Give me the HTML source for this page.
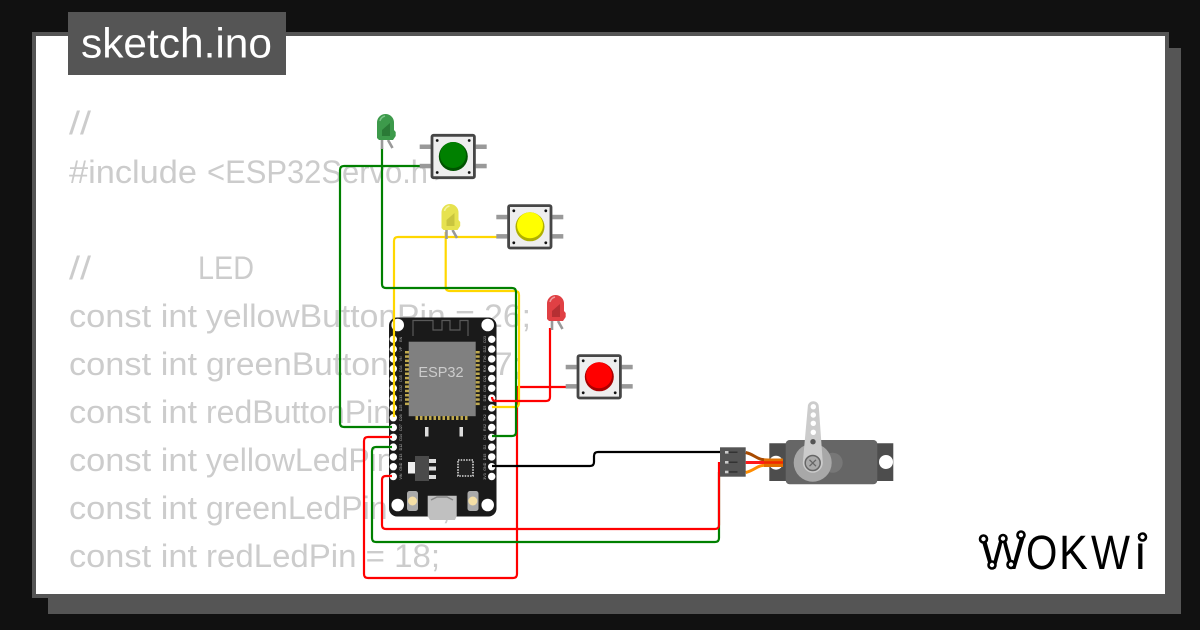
<!DOCTYPE html>
<html><head><meta charset="utf-8"><style>
html,body{margin:0;padding:0;background:#111;width:1200px;height:630px;overflow:hidden}
svg{display:block}
.code{font-family:"Liberation Sans",sans-serif;font-size:32px;fill:#ccc}
.w{fill:none;stroke-width:2.2;stroke-linejoin:round}
.pl{font-family:"Liberation Sans",sans-serif;font-size:3.6px;fill:#bbb}
.lg{font-family:"Liberation Sans",sans-serif;font-size:48px;fill:#000}
</style></head><body>
<svg xmlns="http://www.w3.org/2000/svg" width="1200" height="630" viewBox="0 0 1200 630">
<defs>
<g id="btn">
<g fill="#999"><rect x="-11" y="10.500" width="11" height="4.500"/><rect x="-11" y="29.800" width="11" height="4.500"/><rect x="45" y="10.500" width="11" height="4.500"/><rect x="45" y="29.800" width="11" height="4.500"/></g>
<rect x="1.300" y="1.300" width="42.400" height="42.400" rx="1.500" fill="#eee" stroke="#464646" stroke-width="2.800"/>
<g fill="#111"><circle cx="6.500" cy="6.500" r="1.400"/><circle cx="38.500" cy="6.500" r="1.400"/><circle cx="6.500" cy="38.500" r="1.400"/><circle cx="38.500" cy="38.500" r="1.400"/></g>
</g>
<g id="led">
<path d="M5 26 L5 35 M11 26 L15.500 34" stroke="#999" stroke-width="2.600" fill="none"/>
</g>
</defs>
<rect width="1200" height="630" fill="#111"/>
<rect x="48" y="48" width="1133" height="566" fill="#555"/>
<rect x="34" y="34" width="1133" height="562" fill="#fff" stroke="#555" stroke-width="4"/>

<g class="code">
<text x="69" y="134" textLength="22" lengthAdjust="spacingAndGlyphs">//</text>
<text x="69" y="183" textLength="128" lengthAdjust="spacingAndGlyphs">#include</text><text x="207" y="183" textLength="221" lengthAdjust="spacingAndGlyphs">&lt;ESP32Servo.h</text><text x="434" y="183">&gt;</text>
<text x="69" y="279" textLength="22" lengthAdjust="spacingAndGlyphs">//</text><text x="198" y="279" textLength="56" lengthAdjust="spacingAndGlyphs">LED</text>
<text x="69" y="327" textLength="128" lengthAdjust="spacingAndGlyphs">const int</text><text x="206" y="327" textLength="325" lengthAdjust="spacingAndGlyphs">yellowButtonPin = 26;</text>
<text x="69" y="375" textLength="128" lengthAdjust="spacingAndGlyphs">const int</text><text x="206" y="375" textLength="316" lengthAdjust="spacingAndGlyphs">greenButtonPin = 27;</text>
<text x="69" y="423" textLength="128" lengthAdjust="spacingAndGlyphs">const int</text><text x="206" y="423">redButtonPin = 25;</text>
<text x="69" y="471" textLength="128" lengthAdjust="spacingAndGlyphs">const int</text><text x="206" y="471">yellowLedPin = 5;</text>
<text x="69" y="519" textLength="128" lengthAdjust="spacingAndGlyphs">const int</text><text x="206" y="519">greenLedPin = 4;</text>
<text x="69" y="567" textLength="128" lengthAdjust="spacingAndGlyphs">const int</text><text x="206" y="567" textLength="234" lengthAdjust="spacingAndGlyphs">redLedPin = 18;</text>
</g>

<rect x="68" y="12" width="218" height="63" fill="#555"/>
<text x="81" y="57.500" font-family="'Liberation Sans',sans-serif" font-size="42" fill="#fff" textLength="191" lengthAdjust="spacingAndGlyphs">sketch.ino</text>

<!-- ESP32 -->
<rect x="389" y="317.500" width="107.500" height="199" rx="8" fill="#1a1a1a"/>
<path d="M413 336V320.500H433V330H442V320.500H450V330H460V320.500H468V336" fill="none" stroke="#5a5a5a" stroke-width="1.200"/>
<rect x="408.700" y="341.700" width="67" height="74.500" fill="#808080"/>
<text x="441" y="377" font-family="'Liberation Sans',sans-serif" font-size="14.500" fill="#ccc" text-anchor="middle">ESP32</text>
<g fill="#bfa94f">
<rect x="405" y="351" width="4" height="2.500"/><rect x="405" y="355.300" width="4" height="2.500"/><rect x="405" y="359.600" width="4" height="2.500"/><rect x="405" y="363.900" width="4" height="2.500"/><rect x="405" y="368.200" width="4" height="2.500"/><rect x="405" y="372.500" width="4" height="2.500"/><rect x="405" y="376.800" width="4" height="2.500"/><rect x="405" y="381.100" width="4" height="2.500"/><rect x="405" y="385.400" width="4" height="2.500"/><rect x="405" y="389.700" width="4" height="2.500"/><rect x="405" y="394" width="4" height="2.500"/><rect x="405" y="398.300" width="4" height="2.500"/><rect x="405" y="402.600" width="4" height="2.500"/>
<rect x="475.700" y="351" width="4" height="2.500"/><rect x="475.700" y="355.300" width="4" height="2.500"/><rect x="475.700" y="359.600" width="4" height="2.500"/><rect x="475.700" y="363.900" width="4" height="2.500"/><rect x="475.700" y="368.200" width="4" height="2.500"/><rect x="475.700" y="372.500" width="4" height="2.500"/><rect x="475.700" y="376.800" width="4" height="2.500"/><rect x="475.700" y="381.100" width="4" height="2.500"/><rect x="475.700" y="385.400" width="4" height="2.500"/><rect x="475.700" y="389.700" width="4" height="2.500"/><rect x="475.700" y="394" width="4" height="2.500"/><rect x="475.700" y="398.300" width="4" height="2.500"/><rect x="475.700" y="402.600" width="4" height="2.500"/>
<rect x="415.500" y="416" width="2.500" height="4"/><rect x="420" y="416" width="2.500" height="4"/><rect x="424.500" y="416" width="2.500" height="4"/><rect x="429" y="416" width="2.500" height="4"/><rect x="433.500" y="416" width="2.500" height="4"/><rect x="438" y="416" width="2.500" height="4"/><rect x="442.500" y="416" width="2.500" height="4"/><rect x="447" y="416" width="2.500" height="4"/><rect x="451.500" y="416" width="2.500" height="4"/><rect x="456" y="416" width="2.500" height="4"/><rect x="460.500" y="416" width="2.500" height="4"/><rect x="465" y="416" width="2.500" height="4"/>
</g>
<g fill="#fff">
<circle cx="397.700" cy="325" r="6.300"/><circle cx="487.700" cy="325" r="6.300"/><circle cx="397.700" cy="505" r="6.300"/><circle cx="487.700" cy="505" r="6.300"/>
<circle cx="393.300" cy="339.300" r="3.700"/><circle cx="393.300" cy="349.100" r="3.700"/><circle cx="393.300" cy="358.900" r="3.700"/><circle cx="393.300" cy="368.700" r="3.700"/><circle cx="393.300" cy="378.500" r="3.700"/><circle cx="393.300" cy="388.300" r="3.700"/><circle cx="393.300" cy="398.100" r="3.700"/><circle cx="393.300" cy="407.900" r="3.700"/><circle cx="393.300" cy="417.700" r="3.700"/><circle cx="393.300" cy="427.500" r="3.700"/><circle cx="393.300" cy="437.300" r="3.700"/><circle cx="393.300" cy="447.100" r="3.700"/><circle cx="393.300" cy="456.900" r="3.700"/><circle cx="393.300" cy="466.700" r="3.700"/><circle cx="393.300" cy="476.500" r="3.700"/>
<circle cx="491.700" cy="339.300" r="3.700"/><circle cx="491.700" cy="349.100" r="3.700"/><circle cx="491.700" cy="358.900" r="3.700"/><circle cx="491.700" cy="368.700" r="3.700"/><circle cx="491.700" cy="378.500" r="3.700"/><circle cx="491.700" cy="388.300" r="3.700"/><circle cx="491.700" cy="398.100" r="3.700"/><circle cx="491.700" cy="407.900" r="3.700"/><circle cx="491.700" cy="417.700" r="3.700"/><circle cx="491.700" cy="427.500" r="3.700"/><circle cx="491.700" cy="437.300" r="3.700"/><circle cx="491.700" cy="447.100" r="3.700"/><circle cx="491.700" cy="456.900" r="3.700"/><circle cx="491.700" cy="466.700" r="3.700"/><circle cx="491.700" cy="476.500" r="3.700"/>
<rect x="425" y="427" width="3.500" height="9.500" fill="#ddd"/><rect x="459.500" y="427" width="3.500" height="9.500" fill="#ddd"/>
</g>
<g class="pl" text-anchor="middle">
<text transform="translate(400.500 339.300) rotate(-90)" dy="1.300">EN</text><text transform="translate(400.500 349.100) rotate(-90)" dy="1.300">VP</text><text transform="translate(400.500 358.900) rotate(-90)" dy="1.300">VN</text><text transform="translate(400.500 368.700) rotate(-90)" dy="1.300">D34</text><text transform="translate(400.500 378.500) rotate(-90)" dy="1.300">D35</text><text transform="translate(400.500 388.300) rotate(-90)" dy="1.300">D32</text><text transform="translate(400.500 398.100) rotate(-90)" dy="1.300">D33</text><text transform="translate(400.500 407.900) rotate(-90)" dy="1.300">D25</text><text transform="translate(400.500 417.700) rotate(-90)" dy="1.300">D26</text><text transform="translate(400.500 427.500) rotate(-90)" dy="1.300">D27</text><text transform="translate(400.500 437.300) rotate(-90)" dy="1.300">D14</text><text transform="translate(400.500 447.100) rotate(-90)" dy="1.300">D12</text><text transform="translate(400.500 456.900) rotate(-90)" dy="1.300">D13</text><text transform="translate(400.500 466.700) rotate(-90)" dy="1.300">GND</text><text transform="translate(400.500 476.500) rotate(-90)" dy="1.300">VIN</text>
<text transform="translate(484.800 339.300) rotate(-90)" dy="1.300">D23</text><text transform="translate(484.800 349.100) rotate(-90)" dy="1.300">D22</text><text transform="translate(484.800 358.900) rotate(-90)" dy="1.300">TX0</text><text transform="translate(484.800 368.700) rotate(-90)" dy="1.300">RX0</text><text transform="translate(484.800 378.500) rotate(-90)" dy="1.300">D21</text><text transform="translate(484.800 388.300) rotate(-90)" dy="1.300">D19</text><text transform="translate(484.800 398.100) rotate(-90)" dy="1.300">D18</text><text transform="translate(484.800 407.900) rotate(-90)" dy="1.300">D5</text><text transform="translate(484.800 417.700) rotate(-90)" dy="1.300">TX2</text><text transform="translate(484.800 427.500) rotate(-90)" dy="1.300">RX2</text><text transform="translate(484.800 437.300) rotate(-90)" dy="1.300">D4</text><text transform="translate(484.800 447.100) rotate(-90)" dy="1.300">D2</text><text transform="translate(484.800 456.900) rotate(-90)" dy="1.300">D15</text><text transform="translate(484.800 466.700) rotate(-90)" dy="1.300">GND</text><text transform="translate(484.800 476.500) rotate(-90)" dy="1.300">3V3</text>
</g>
<rect x="408" y="462" width="7" height="11.500" fill="#eee"/>
<rect x="415" y="456" width="14" height="25" fill="#4a4a4a"/>
<g fill="#ddd"><rect x="429" y="459" width="7" height="4"/><rect x="429" y="466.500" width="7" height="4"/><rect x="429" y="475" width="7" height="4"/></g>
<rect x="458" y="460" width="15" height="16" fill="#222" stroke="#ddd" stroke-width="1.600" stroke-dasharray="1.500 1.200"/>
<rect x="407" y="491" width="11" height="20" rx="2.500" fill="#aaa"/><circle cx="412.500" cy="501" r="4.500" fill="#f5dfa6"/>
<rect x="467.500" y="491" width="11" height="20" rx="2.500" fill="#aaa"/><circle cx="472.800" cy="501" r="4.500" fill="#f5dfa6"/>
<path d="M427.700 495.700H456.700V516L455 520H430L427.700 516Z" fill="#c0c0c0"/>
<path d="M431 500 L437 497H447L453 500" fill="none" stroke="#888" stroke-width="1.500"/>

<!-- wires -->
<path class="w" stroke="#ff0000" d="M566 387H517V574Q517 578 513 578H368Q364 578 364 574V441Q364 437 368 437H392"/>
<path class="w" stroke="#008000" d="M420 166H344Q340 166 340 170V423Q340 427 344 427H392"/>
<path class="w" stroke="#ffd700" d="M497 237H398Q394 237 394 241V417"/>
<path class="w" stroke="#ffd700" d="M445.700 232V287Q445.700 291 450 291H515Q519 291 519 295V403Q519 407 515 407H492"/>
<path class="w" stroke="#008000" d="M382 148V284Q382 288 386 288H512Q516 288 516 292V432Q516 436 512 436H492"/>
<path class="w" stroke="#ff0000" d="M550 328V397Q550 401 546 401H496Q492 401 492 397"/>
<path class="w" stroke="#008000" d="M392 447H376Q372 447 372 451V538Q372 542 376 542H715Q719 542 719 538V472"/>
<path class="w" stroke="#ff0000" d="M392 476H386Q382 476 382 480V525Q382 529 386 529H715Q719 529 719 525V462"/>
<path class="w" stroke="#000" d="M492 466H590Q594 466 594 462V456Q594 452 598 452H722"/>

<!-- buttons -->
<use href="#btn" x="430.700" y="134"/><circle cx="453.300" cy="156.500" r="14.500" fill="#005400"/><circle cx="453" cy="155" r="13" fill="#008000"/>
<use href="#btn" x="507.300" y="204.300"/><circle cx="530" cy="226.800" r="14.500" fill="#b0b000"/><circle cx="530" cy="225.300" r="13" fill="#ff0"/>
<use href="#btn" x="576.700" y="354.300"/><circle cx="599.300" cy="376.800" r="14.500" fill="#a00"/><circle cx="599" cy="375.300" r="13" fill="#f00"/>

<!-- LEDs -->
<g transform="translate(377 114)"><use href="#led"/><path d="M0 8.500A8.500 8.500 0 0 1 17 8.500V16L18.700 18V22L16 26H2L0 24Z" fill="#3d9a4b"/><path d="M5 16L13 9V22H5Z" fill="#2a7a36"/><path d="M3 7Q4 3 8 2" stroke="#7cc488" stroke-width="1.500" fill="none"/></g>
<g transform="translate(441.500 204)"><use href="#led"/><path d="M0 8.500A8.500 8.500 0 0 1 17 8.500V16L18.700 18V22L16 26H2L0 24Z" fill="#e6e24f"/><path d="M5 16L13 9V22H5Z" fill="#c9c53e"/><path d="M3 7Q4 3 8 2" stroke="#f5f3a0" stroke-width="1.500" fill="none"/></g>
<g transform="translate(547 295)"><use href="#led"/><path d="M0 8.500A8.500 8.500 0 0 1 17 8.500V16L18.700 18V22L16 26H2L0 24Z" fill="#e04044"/><path d="M5 16L13 9V22H5Z" fill="#b52f33"/><path d="M3 7Q4 3 8 2" stroke="#f09a9c" stroke-width="1.500" fill="none"/></g>

<!-- servo -->
<path d="M769.300 443.300H893.300V481H769.300Z" fill="#4d4d4d"/>
<circle cx="776" cy="462.700" r="7" fill="#fff"/><circle cx="886" cy="462" r="7" fill="#fff"/>
<rect x="785.700" y="440" width="91.600" height="44.300" rx="4" fill="#666"/>
<circle cx="832.700" cy="462.700" r="10" fill="#777"/>
<circle cx="812.700" cy="462.700" r="19" fill="#a8a8a8"/>
<path d="M807.800 406.700A5.500 5.500 0 0 1 818.800 406.700L822.800 462.700A10 10 0 0 1 802.800 462.700Z" fill="#ccc"/>
<circle cx="813.300" cy="406.700" r="2.700" fill="#fff"/><circle cx="813.300" cy="415" r="2.700" fill="#fff"/><circle cx="813.300" cy="423.300" r="2.700" fill="#fff"/><circle cx="813.300" cy="432.300" r="2.700" fill="#fff"/><circle cx="813" cy="441.700" r="2.700" fill="#555"/>
<circle cx="812.700" cy="463" r="7.500" fill="#aaa" stroke="#666" stroke-width="1.500"/>
<path d="M809.500 459.800L816 466.200M816 459.800L809.500 466.200" stroke="#666" stroke-width="1.300"/>
<path d="M745.700 452.500C756 455 756 460 768 460H783" fill="none" stroke="#a84a00" stroke-width="3"/>
<path d="M745.700 472.500C756 470 756 465 768 465H783" fill="none" stroke="#ff8c00" stroke-width="3"/>
<path d="M745.700 462.500H783" stroke="#ff1a1a" stroke-width="3"/>
<rect x="764" y="458.500" width="19" height="8.500" fill="#e07000"/>
<rect x="764" y="461.200" width="19" height="2.600" fill="#f02a00"/>
<rect x="720" y="447.300" width="25.700" height="29.400" fill="#555"/>
<g fill="#ccc"><rect x="725" y="451" width="3.500" height="2.600"/><rect x="725" y="461" width="3.500" height="2.600"/><rect x="725" y="470.700" width="3.500" height="2.600"/></g>
<g fill="#333"><rect x="728.500" y="451.500" width="9" height="1.500"/><rect x="728.500" y="461.500" width="9" height="1.500"/><rect x="728.500" y="471.200" width="9" height="1.500"/></g>

<!-- logo -->
<text class="lg" transform="translate(980 569)">W</text>
<text class="lg" transform="translate(1026 569) scale(.84 1)">O</text>
<text class="lg" transform="translate(1059 569) scale(.9 1)">K</text>
<text class="lg" transform="translate(1091 569) scale(.86 1)">W</text>
<text class="lg" transform="translate(1135 569)">i</text>
<g fill="#fff" stroke="#000" stroke-width="2.600"><circle cx="983.500" cy="539" r="3.500"/><circle cx="1003" cy="538.500" r="3.500"/><circle cx="1021" cy="535" r="3.500"/><circle cx="992" cy="565" r="3.500"/><circle cx="1011" cy="564.500" r="3.500"/><circle cx="1142.500" cy="537" r="3.500"/></g>
</svg>
</body></html>
